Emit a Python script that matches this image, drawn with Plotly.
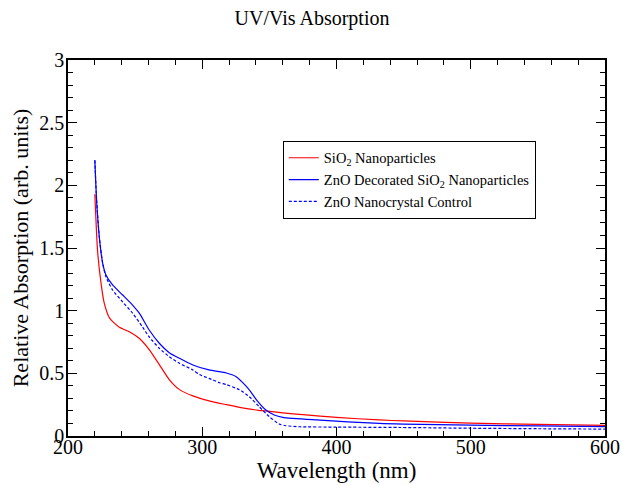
import plotly.graph_objects as go

# Wavelength (nm) and relative absorption
sio2_x = [220, 222, 224.6, 227, 231, 238, 246, 253, 260.5, 268, 275.4, 283, 293, 305, 318, 332, 342, 347, 360, 375, 400, 432, 450, 500, 550, 600]
sio2_y = [1.93, 1.48, 1.22, 1.06, 0.94, 0.87, 0.83, 0.78, 0.69, 0.57, 0.45, 0.37, 0.32, 0.28, 0.25, 0.22, 0.205, 0.2, 0.185, 0.17, 0.148, 0.128, 0.12, 0.102, 0.093, 0.085]

zno_sio2_x = [220, 221.3, 223.3, 225.8, 228.3, 233.2, 240.7, 248.1, 253.1, 260.5, 268, 275.4, 283, 293, 305, 318, 325, 332.5, 336, 341, 347.4, 353.6, 360, 385, 432, 450, 500, 550, 600]
zno_sio2_y = [2.20, 1.88, 1.59, 1.38, 1.285, 1.205, 1.125, 1.045, 0.98, 0.846, 0.74, 0.665, 0.62, 0.567, 0.527, 0.503, 0.475, 0.40, 0.355, 0.28, 0.207, 0.168, 0.149, 0.128, 0.10, 0.095, 0.087, 0.08, 0.075]

zno_x = [220, 221.3, 223.3, 225.8, 228.3, 233.2, 240.7, 248.1, 255.5, 260.5, 268, 275.4, 283, 293, 298, 305, 313, 318, 327.5, 335, 342.4, 350, 357.3, 362.3, 372, 400, 447, 500, 550, 600]
zno_y = [2.20, 1.88, 1.59, 1.38, 1.27, 1.165, 1.07, 0.98, 0.87, 0.79, 0.70, 0.633, 0.58, 0.527, 0.49, 0.46, 0.425, 0.41, 0.37, 0.314, 0.234, 0.154, 0.096, 0.082, 0.074, 0.071, 0.068, 0.062, 0.058, 0.055]

serif = "Liberation Serif"

fig = go.Figure()
fig.add_trace(go.Scatter(x=sio2_x, y=sio2_y, mode="lines", name="SiO<sub>2</sub> Nanoparticles",
                         line=dict(color="#ff0000", width=1.2, shape="spline", smoothing=0.6)))
fig.add_trace(go.Scatter(x=zno_sio2_x, y=zno_sio2_y, mode="lines", name="ZnO Decorated SiO<sub>2</sub> Nanoparticles",
                         line=dict(color="#0000ff", width=1.2, shape="spline", smoothing=0.6)))
fig.add_trace(go.Scatter(x=zno_x, y=zno_y, mode="lines", name="ZnO Nanocrystal Control",
                         line=dict(color="#0000ff", width=1.2, dash="3px,2px", shape="spline", smoothing=0.6)))

axis_common = dict(showline=True, linecolor="black", linewidth=1.5, mirror="allticks",
                   ticks="inside", ticklen=9, tickwidth=1.2, tickcolor="black",
                   showgrid=False, zeroline=False, automargin=False,
                   tickfont=dict(family=serif, size=20, color="black"))

fig.update_xaxes(range=[200, 600], dtick=100, tick0=200, ticklabelstandoff=-8,
                 minor=dict(dtick=20, ticks="inside", ticklen=5, tickwidth=1, tickcolor="black"),
                 title=dict(text="Wavelength (nm)", font=dict(family=serif, size=23, color="black"), standoff=0),
                 **axis_common)
fig.update_yaxes(range=[0, 3], dtick=0.5, tick0=0, ticklabelstandoff=-2,
                 minor=dict(dtick=0.1, ticks="inside", ticklen=5, tickwidth=1, tickcolor="black"),
                 title=dict(text="Relative Absorption (arb. units)", font=dict(family=serif, size=22, color="black"), standoff=5),
                 **axis_common)

fig.update_layout(
    width=624, height=485,
    margin=dict(l=68, r=19, t=60, b=49),
    paper_bgcolor="white", plot_bgcolor="white",
    title=dict(text="UV/Vis Absorption", x=0.5, xref="container", xanchor="center",
               y=0.977, yanchor="top", font=dict(family=serif, size=20, color="black")),
    legend=dict(x=0.40, y=0.785, xanchor="left", yanchor="top",
                bordercolor="black", borderwidth=1, bgcolor="white",
                font=dict(family=serif, size=14.5, color="black"),
                itemwidth=30, tracegroupgap=0),
    showlegend=True,
)

fig.write_html("out.html", config={"displayModeBar": False},
               post_script="document.body.style.margin='0';")
